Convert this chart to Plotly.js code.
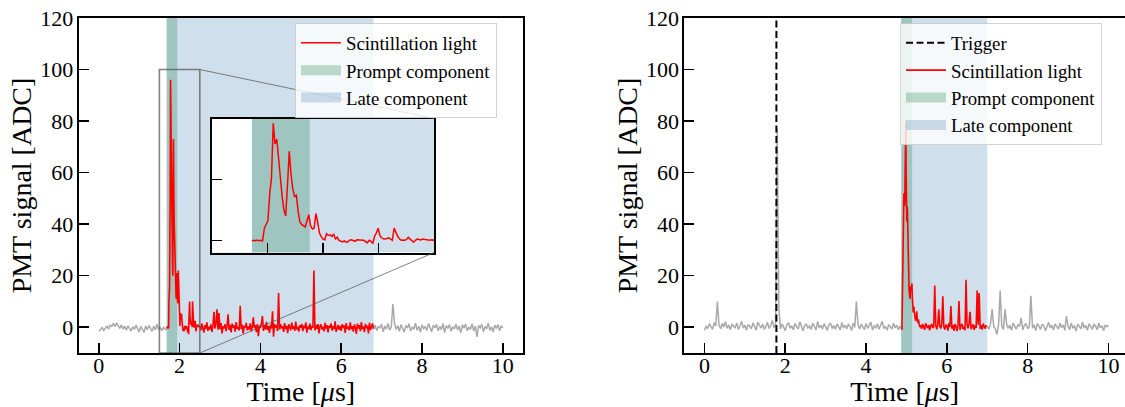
<!DOCTYPE html>
<html><head><meta charset="utf-8">
<script src="https://cdn.plot.ly/plotly-3.0.1.min.js"></script>
<style>html,body{margin:0;padding:0;background:#fff}#chart{width:1125px;height:407px}</style>
</head><body><div id="chart"></div>
<script>
// ================= DATA =================
const yRange = [-10, 120];
const xTicks = [0, 2, 4, 6, 8, 10];
const yTicks = [0, 20, 40, 60, 80, 100, 120];

// ---- Left event ----
const leftPromptWindow = [1.68, 1.94];
const leftLateWindow = [1.68, 6.8];

const leftPreStart = 0, leftPreStep = 0.04;
const leftPreValues = [
 -1.5,-1,0,-1.2,-0.5,0.5,-0.8,0.8,0.3,1.5,0.2,1.7,0.5,-0.3,0.9,-0.7,0.4,-1.2,0.6,-0.4,
 -1.5,0.2,-0.8,0.8,-0.3,-1.8,0.3,-0.6,-2,0.5,-1,0.7,-0.5,-1.6,0.4,-1,1.2,-0.7,-0.2,-1.3,
 0.1,-0.8,-1
];

const leftPulseStart = 1.68, leftPulseStep = 0.008;
const leftPulseValues = [
 -0.5,0,-0.3,0.3,-0.4,0.1,-0.5,10,13,16,
 38,51,96,79,83,65,48,36,25,20,
 45,73,54,42,36,37,24,15,13,12,
 11,16,21,12,9.3,10,22,15,6,3,
 1,0.5,5.5,4,4.5,3,5.2,1.1,2.5,0,
 -1,-1.3,-0.5,-1.6,-1.2,0.2,0.5,-0.3,-0.8,0.4,
 0.3,-0.2,0.1,0,-1.2,-2,0,-0.8,-2.7,3.3,
 6,10,4,2,1.2,1,1.5,2,1,0,
 10,6,3.3,1.2,0,0.2,0,0.8,2.5,1,
 -0.5,-1.6,0,1,0.6,0.2,1,0.8,0.3,0.5,
 0,0.4,0
];

const leftTailStart = 2.5, leftTailStep = 0.025;
const leftTailValues = [
 0.5,-1.2,1.5,-0.3,-2.1,0.8,-0.6,1.9,-1.4,0.2,-0.9,1.1,-1.8,0.4,6,-0.5,1.3,7,-1,5.5,
 -0.8,1.6,-2.4,0.3,-0.4,1.2,-1.5,0.6,5,-1.1,0.9,-2,1.4,-0.2,0.7,-1.7,2,-0.6,0.1,-1.3,
 8.3,-0.7,1.0,-2.5,0.5,-0.1,1.7,-1.2,0.3,-0.9,1.5,-1.6,0.2,3.8,-0.4,0.8,-1.9,1.2,-3.5,0.6,
 -0.3,1.4,4.3,-1.4,0.9,-0.8,2.1,-1.1,0.4,-2.2,1.0,-0.5,6.2,-3.7,1.3,-0.2,0.7,-1.5,13.3,-0.9,
 1.2,-0.4,0.3,-1.8,1.6,-0.7,0.5,-2.3,1.1,0.2,-1.2,1.8,-0.6,0.4,-1.4,2.2,-0.9,0.1,-1.7,0.8,
 -0.2,1.3,-1.5,0.6,-0.4,1.9,-2.1,0.3,-0.8,1.4,-1.1,0.5,-0.3,22,-1.3,0.9,-0.6,1.2,-2.4,0.4,
 1.1,-0.9,0.2,-1.6,1.7,-0.5,0.8,-2,0.6,-0.2,1.5,-1.3,0.4,-0.7,2.3,-1.8,0.1,0.9,-1,0.5,
 -1.4,1.2,-0.3,0.7,-2.2,1.6,-0.6,0.2,-1.2,1.9,-0.8,0.4,-1.7,1.1,-0.1,-2.6,1.4,-0.5,0.8,-1.5,
 2.0,-0.7,0.3,-1.9,1.3,-0.4,0.6,-2.4,1.7,-1.0,0.2,1.5,-0.6
];

const leftPostStart = 6.8, leftPostStep = 0.04;
const leftPostValues = [
 -0.6,0.8,-1.4,0.3,-0.2,1.2,-1.8,0.5,-0.7,1.5,-1.1,0.2,9,1.5,-0.9,0.6,-1.6,1.0,-0.4,-1.9,
 0.7,-0.3,1.3,-1.5,0.1,-0.8,1.6,-1.2,0.4,-2.0,0.9,-0.5,0.2,-1.3,1.4,-0.6,-1.7,0.8,-0.2,1.1,
 -1.4,0.3,-0.9,1.5,-2.1,0.6,-0.3,1.0,-1.6,0.2,-0.7,1.3,-1.1,0.5,-2.2,0.9,-0.4,1.2,-1.3,0.1,
 -0.8,1.4,-1.5,0.4,-3.7,0.7,-0.2,1.1,-1.8,0.3,-0.6,1.6,-1.2,0.2,-1.9,0.8,-0.5,1.0,-1.4,0.6,-0.3
];

// inset (zoom of the left event)
const insetXRange = [1.5, 2.5];
const insetYRange = [-10, 100];
const insetXTicks = [1.75, 2.0, 2.25];
const insetYTicks = [0, 50];
// inset placement, in data units of the left panel
const insetBoundsX = [2.8, 8.3];
const insetBoundsY = [29, 81];

// ---- Right event ----
const triggerTime = 1.78;
const rightPromptWindow = [4.87, 5.14];
const rightLateWindow = [4.87, 7.0];

const rightPreStart = 0, rightPreStep = 0.04;
const rightPreValues = [
 -1.2,0.3,-0.5,1.4,0.2,-0.8,1.8,0.5,10,0.7,-0.6,1.5,0.1,2.2,-0.4,0.9,-1.0,1.3,0.3,-0.2,
 1.6,-0.9,0.5,2.4,-0.3,0.8,-1.2,1.1,0.4,-0.6,1.7,0.2,-1.1,2.0,0.6,-0.4,1.2,-0.8,0.3,1.9,
 -0.5,0.7,2.6,-0.2,1.0,77,8,-0.7,1.3,0.2,-1.3,0.9,1.8,-0.4,0.6,-1.0,1.5,0.1,-0.6,2.1,
 0.3,-1.4,0.8,1.2,-0.3,0.5,-0.9,1.6,0.4,-1.1,2.2,-0.2,0.7,-0.7,1.4,0.0,-1.2,0.9,1.7,-0.5,
 0.6,-0.8,1.3,0.2,-1.0,1.9,-0.3,0.8,-0.6,1.1,0.4,-1.3,1.6,-0.1,10,0.9,-0.7,1.2,0.3,-0.9,
 1.5,-0.4,0.7,2.0,-1.1,0.5,-0.2,1.3,-0.8,0.9,2.3,-0.5,0.4,-1.2,1.0,0.2,-0.7,1.6,-0.3,0.8,
 -1.0,0.5,-1.0
];

const rightPulseStart = 4.888, rightPulseStep = 0.008;
const rightPulseValues = [
 -1,10,22,35,44,50,52,50,47,49,
 62,72,80,60,43,41,47,45,35,28,
 21,18,15,13,12,11,14,16,15,14,
 15,17,12,9,6,5.7,7,8,6,4,
 3.5,3,2.5,3,4.5,5.5,6.2,4,2.5,1.7,
 2,3,1.5,0.5,1,0
];

const rightTailStart = 5.35, rightTailStep = 0.025;
const rightTailValues = [
 0.8,-0.6,1.2,0.1,-1.0,1.5,0.3,-0.4,0.9,-1.2,0.6,1.3,-0.3,0.2,16.2,0.7,-0.8,1.1,7,0.4,
 -0.5,1.4,12,0.2,-0.9,1.0,0.5,-1.3,1.6,0.1,8.2,-0.6,0.9,-1.4,1.2,0.3,-1.5,0.8,10.2,-1.1,
 0.6,1.3,-0.7,0.2,-1.2,18.4,0.9,-0.4,1.5,6,-0.8,0.4,1.1,-1.0,0.7,-0.3,14.2,1.0,13.3,-0.6,
 0.8,-0.9,1.4,0.2,-0.5,0.9
];

const rightPostStart = 7.0, rightPostStep = 0.04;
const rightPostValues = [
 0.5,-0.8,1.2,7,0.3,-0.6,-2.8,1.0,14.2,0.4,-0.9,7,1.3,-0.5,0.8,-1.2,1.6,0.2,-0.7,1.1,
 0.3,3.6,-1.0,0.7,1.4,-0.6,0.2,12.2,-0.4,0.9,-1.3,1.5,0.1,-0.8,1.2,0.5,-1.4,0.6,1.9,-0.3,
 0.8,-1.1,1.3,0.2,-0.7,1.6,-0.2,0.9,-1.2,4.3,0.4,-0.9,1.7,-0.4,0.6,-1.5,1.2,0.3,-0.6,2.0,
 -0.3,0.7,-1.2,1.4,0.1,-0.8,1.1,0.5,-1.0,1.6,-0.2,0.6,-1.3,0.9,0.2,0.8
];

// ================= STYLE / LAYOUT =================
const W = 1125, H = 407;
const FONT = '"Liberation Serif", "Times New Roman", serif';
const RED = '#ff0000', GRAY = '#a9a9a9';
const LATE_COLOR = 'rgba(70,130,180,0.26)';
const PROMPT_COLOR = 'rgba(46,139,87,0.30)';

// panel pixel boxes
const leftBox = {x0: 78.6, x1: 523, y0: 18, y1: 353};
const rightBox = {x0: 684.3, x1: 1125, y0: 18, y1: 353};
const leftXRange = [-0.5, 10.5];
const rightXRange = [-0.5, 10.41];

function seg(start, step, vals) {
  return {x: vals.map((_, i) => +(start + i * step).toFixed(4)), y: vals.slice()};
}
function cat(a, b) { return {x: a.x.concat(b.x), y: a.y.concat(b.y)}; }
function gap(a, b) { return {x: a.x.concat([null], b.x), y: a.y.concat([null], b.y)}; }

function band(win, color, xa, ya) {
  return {type: 'scatter', mode: 'lines',
    x: [win[0], win[1], win[1], win[0], win[0]],
    y: [yRange[0], yRange[0], yRange[1], yRange[1], yRange[0]],
    fill: 'toself', fillcolor: color, line: {width: 0, color: color},
    xaxis: xa, yaxis: ya, showlegend: false, hoverinfo: 'skip'};
}
// legend patch for a band (no data of its own)
function bandKey(name, color, xa, ya, legend, rank) {
  return {type: 'scatter', mode: 'lines', name: name, x: [null], y: [null],
    line: {width: 10, color: color}, xaxis: xa, yaxis: ya, legend: legend, legendrank: rank,
    showlegend: true, hoverinfo: 'skip'};
}

const leftGray = gap(seg(leftPreStart, leftPreStep, leftPreValues), seg(leftPostStart, leftPostStep, leftPostValues));
const leftRed = cat(seg(leftPulseStart, leftPulseStep, leftPulseValues), seg(leftTailStart, leftTailStep, leftTailValues));
const rightGray = gap(seg(rightPreStart, rightPreStep, rightPreValues), seg(rightPostStart, rightPostStep, rightPostValues));
const rightRed = cat(seg(rightPulseStart, rightPulseStep, rightPulseValues), seg(rightTailStart, rightTailStep, rightTailValues));

const traces = [
  band(leftLateWindow, LATE_COLOR, 'x', 'y'),
  band(leftPromptWindow, PROMPT_COLOR, 'x', 'y'),
  {type: 'scatter', mode: 'lines', x: leftGray.x, y: leftGray.y, line: {color: GRAY, width: 1.5},
   xaxis: 'x', yaxis: 'y', showlegend: false, connectgaps: false, hoverinfo: 'skip'},
  {type: 'scatter', mode: 'lines', name: 'Scintillation light', x: leftRed.x, y: leftRed.y,
   line: {color: RED, width: 1.6}, xaxis: 'x', yaxis: 'y', legend: 'legend', legendrank: 1},
  bandKey('Prompt component', PROMPT_COLOR, 'x', 'y', 'legend', 2),
  bandKey('Late component', LATE_COLOR, 'x', 'y', 'legend', 3),

  band(rightLateWindow, LATE_COLOR, 'x2', 'y2'),
  band(rightPromptWindow, PROMPT_COLOR, 'x2', 'y2'),
  {type: 'scatter', mode: 'lines', x: rightGray.x, y: rightGray.y, line: {color: GRAY, width: 1.5},
   xaxis: 'x2', yaxis: 'y2', showlegend: false, connectgaps: false, hoverinfo: 'skip'},
  {type: 'scatter', mode: 'lines', name: 'Trigger', x: [triggerTime, triggerTime], y: yRange,
   line: {color: 'black', width: 2, dash: '7px,3.5px'}, xaxis: 'x2', yaxis: 'y2', legend: 'legend2', legendrank: 0},
  {type: 'scatter', mode: 'lines', name: 'Scintillation light', x: rightRed.x, y: rightRed.y,
   line: {color: RED, width: 1.6}, xaxis: 'x2', yaxis: 'y2', legend: 'legend2', legendrank: 1},
  bandKey('Prompt component', PROMPT_COLOR, 'x2', 'y2', 'legend2', 2),
  bandKey('Late component', LATE_COLOR, 'x2', 'y2', 'legend2', 3),

  band(leftLateWindow, LATE_COLOR, 'x3', 'y3'),
  band(leftPromptWindow, PROMPT_COLOR, 'x3', 'y3'),
  {type: 'scatter', mode: 'lines', x: leftRed.x, y: leftRed.y, line: {color: RED, width: 1.5},
   xaxis: 'x3', yaxis: 'y3', showlegend: false, hoverinfo: 'skip'}
];

function px2fx(p) { return p / W; }
function px2fy(p) { return 1 - p / H; }

// inset domain from its bounds in left-panel data units
const lxs = (leftBox.x1 - leftBox.x0) / (leftXRange[1] - leftXRange[0]);
const lys = (leftBox.y1 - leftBox.y0) / (yRange[1] - yRange[0]);
const insetPx = {
  x0: leftBox.x0 + (insetBoundsX[0] - leftXRange[0]) * lxs,
  x1: leftBox.x0 + (insetBoundsX[1] - leftXRange[0]) * lxs,
  y0: leftBox.y1 - (insetBoundsY[1] - yRange[0]) * lys,
  y1: leftBox.y1 - (insetBoundsY[0] - yRange[0]) * lys
};

const tickFont = {family: FONT, size: 22, color: 'black'};
const titleFont = {family: FONT, size: 28, color: 'black'};

function mainX(box, range, anchor) {
  return {domain: [px2fx(box.x0), px2fx(box.x1)], range: range, anchor: anchor,
    tickvals: xTicks, ticks: 'inside', ticklen: 10, tickwidth: 1.6, tickcolor: 'black',
    ticklabelstandoff: -8,
    showline: true, mirror: true, linewidth: 2, linecolor: 'black', showgrid: false, zeroline: false,
    tickfont: tickFont, title: {text: 'Time [<i>μ</i>s]', font: titleFont, standoff: 13}};
}
function mainY(box, anchor) {
  return {domain: [px2fy(box.y1), px2fy(box.y0)], range: yRange, anchor: anchor,
    tickvals: yTicks, ticks: 'inside', ticklen: 10, tickwidth: 1.6, tickcolor: 'black',
    ticklabelstandoff: -1,
    showline: true, mirror: true, linewidth: 2, linecolor: 'black', showgrid: false, zeroline: false,
    tickfont: tickFont, title: {text: 'PMT signal [ADC]', font: titleFont, standoff: 0}};
}

const legendStyle = (xpx) => ({
  x: px2fx(xpx), y: px2fy(23), xref: 'paper', yref: 'paper', xanchor: 'left', yanchor: 'top',
  bgcolor: 'rgba(255,255,255,0.8)', bordercolor: 'rgba(200,200,200,0.8)', borderwidth: 1,
  font: {family: FONT, size: 18.8, color: 'black'}, traceorder: 'normal', itemwidth: 40
});

const layout = {
  width: W, height: H,
  margin: {l: 0, r: 0, t: 0, b: 0},
  paper_bgcolor: 'white', plot_bgcolor: 'white',
  showlegend: true,
  xaxis: mainX(leftBox, leftXRange, 'y'),
  yaxis: mainY(leftBox, 'x'),
  xaxis2: mainX(rightBox, rightXRange, 'y2'),
  yaxis2: mainY(rightBox, 'x2'),
  xaxis3: {domain: [px2fx(insetPx.x0), px2fx(insetPx.x1)], range: insetXRange, anchor: 'y3',
    tickvals: insetXTicks, showticklabels: false, ticks: 'inside', ticklen: 10, tickwidth: 1.6, tickcolor: 'black',
    showline: true, mirror: true, linewidth: 2, linecolor: 'black', showgrid: false, zeroline: false},
  yaxis3: {domain: [px2fy(insetPx.y1), px2fy(insetPx.y0)], range: insetYRange, anchor: 'x3',
    tickvals: insetYTicks, showticklabels: false, ticks: 'inside', ticklen: 10, tickwidth: 1.6, tickcolor: 'black',
    showline: true, mirror: true, linewidth: 2, linecolor: 'black', showgrid: false, zeroline: false},
  legend: legendStyle(295),
  legend2: legendStyle(900),
  shapes: [
    {type: 'rect', xref: 'x3', yref: 'y3', x0: insetXRange[0], x1: insetXRange[1],
     y0: insetYRange[0], y1: insetYRange[1], fillcolor: 'white', line: {width: 0}, layer: 'below'},
    {type: 'rect', xref: 'x', yref: 'y', x0: insetXRange[0], x1: insetXRange[1],
     y0: insetYRange[0], y1: insetYRange[1], fillcolor: 'rgba(0,0,0,0)',
     line: {color: 'rgba(90,90,90,0.75)', width: 1.6}, layer: 'above'},
    {type: 'line', xref: 'x', yref: 'y', x0: insetXRange[1], y0: insetYRange[1],
     x1: insetBoundsX[1], y1: insetBoundsY[1], line: {color: 'rgba(90,90,90,0.75)', width: 1}, layer: 'above'},
    {type: 'line', xref: 'x', yref: 'y', x0: insetXRange[1], y0: insetYRange[0],
     x1: insetBoundsX[1], y1: insetBoundsY[0], line: {color: 'rgba(90,90,90,0.75)', width: 1}, layer: 'above'}
  ]
};

Plotly.newPlot('chart', traces, layout, {staticPlot: true, displayModeBar: false});
</script>
</body></html>
